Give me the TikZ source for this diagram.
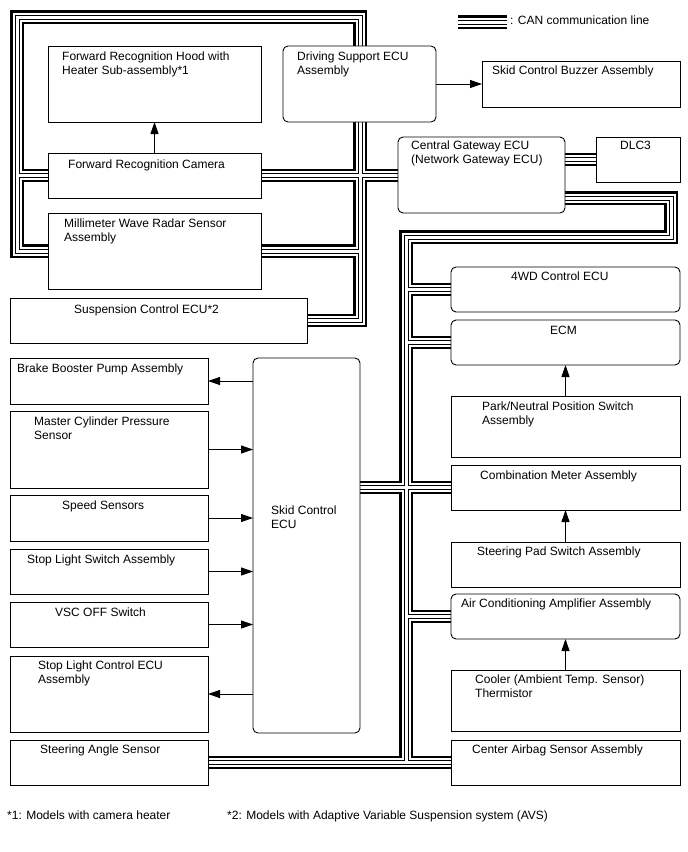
\documentclass[tikz,border=0pt]{standalone}
\usepackage{fontspec}
\setmainfont{Liberation Sans}
\usetikzlibrary{arrows.meta,backgrounds}
\tikzset{
  box/.style={draw, line width=0.9pt, fill=white, inner sep=0pt, outer sep=0pt, anchor=north west},
  ecu/.style={box, rounded corners=5pt},
  txt/.style={inner sep=0pt, anchor=base west, align=left},
  sig/.style={-{Triangle[length=12pt,width=8pt]}, line width=0.9pt},
  canline/.style={draw=black, line width=13.5pt,
    postaction={draw=white, line width=9pt},
    postaction={draw=black, line width=5pt},
    postaction={draw=white, line width=3pt}}
}

\begin{document}
\begin{tikzpicture}[x=1pt, y=-1pt, font=\fontsize{12}{14}\selectfont]
  \useasboundingbox (0,0) rectangle (688,852);
  % upper group
  \node[box, minimum width=213, minimum height=76] (hood) at (48,46) {};
  \node[box, minimum width=213, minimum height=45] (cam) at (48,153) {};
  \node[box, minimum width=213, minimum height=76] (mmw) at (48,213) {};
  \node[box, minimum width=297, minimum height=45] (susp) at (10,298) {};
  \node[ecu, minimum width=153, minimum height=76] (ds) at (283,46) {};
  \node[box, minimum width=198, minimum height=46] (buz) at (482,61) {};
  \node[ecu, minimum width=167, minimum height=76] (gw) at (398,137) {};
  \node[box, minimum width=84, minimum height=45] (dlc) at (596,137) {};
  % right column
  \node[ecu, minimum width=229, minimum height=45] (fwd) at (451,267) {};
  \node[ecu, minimum width=229, minimum height=45] (ecm) at (451,320) {};
  \node[box, minimum width=229, minimum height=61] (pn) at (451,396) {};
  \node[box, minimum width=229, minimum height=45] (cmb) at (451,465) {};
  \node[box, minimum width=229, minimum height=45] (spad) at (451,542) {};
  \node[ecu, minimum width=229, minimum height=45] (ac) at (451,594) {};
  \node[box, minimum width=229, minimum height=61] (cool) at (451,670) {};
  \node[box, minimum width=229, minimum height=45] (abg) at (451,740) {};
  % left column
  \node[box, minimum width=198, minimum height=46] (bbp) at (10,358) {};
  \node[box, minimum width=198, minimum height=77] (mcp) at (10,411) {};
  \node[box, minimum width=198, minimum height=46] (spd) at (10,495) {};
  \node[box, minimum width=198, minimum height=45] (sls) at (10,549) {};
  \node[box, minimum width=198, minimum height=45] (vsc) at (10,602) {};
  \node[box, minimum width=198, minimum height=76] (slc) at (10,656) {};
  \node[box, minimum width=198, minimum height=45] (sas) at (10,740) {};
  \node[ecu, minimum width=107, minimum height=375] (skid) at (253,358) {};

  % texts (base = last line)
  \node[txt] (hood-t) at (62,74) {Forward Recognition Hood with\\Heater Sub-assembly*1};
  \node[txt] (cam-t) at (68,168) {Forward Recognition Camera};
  \node[txt] (mmw-t) at (64,241) {Millimeter Wave Radar Sensor\\Assembly};
  \node[txt] (susp-t) at (74,313) {Suspension Control ECU*2};
  \node[txt] (ds-t) at (297,74) {Driving Support ECU\\Assembly};
  \node[txt] (buz-t) at (492,74) {Skid Control Buzzer Assembly};
  \node[txt] (gw-t) at (411,163) {Central Gateway ECU\\(Network Gateway ECU)};
  \node[txt] (dlc-t) at (620,149) {DLC3};
  \node[txt] (fwd-t) at (511,280) {4WD Control ECU};
  \node[txt] (ecm-t) at (550,334) {ECM};
  \node[txt] (pn-t) at (482,424) {Park/Neutral Position Switch\\Assembly};
  \node[txt] (cmb-t) at (480,479) {Combination Meter Assembly};
  \node[txt] (spad-t) at (477,555) {Steering Pad Switch Assembly};
  \node[txt] (ac-t) at (461,607) {Air Conditioning Amplifier Assembly};
  \node[txt] (cool-t) at (475,697) {Cooler (Ambient Temp. Sensor)\\Thermistor};
  \node[txt] (abg-t) at (472,753) {Center Airbag Sensor Assembly};
  \node[txt] (bbp-t) at (17,372) {Brake Booster Pump Assembly};
  \node[txt] (mcp-t) at (34,439) {Master Cylinder Pressure\\Sensor};
  \node[txt] (spd-t) at (62,509) {Speed Sensors};
  \node[txt] (sls-t) at (27,563) {Stop Light Switch Assembly};
  \node[txt] (vsc-t) at (55,616) {VSC OFF Switch};
  \node[txt] (slc-t) at (38,683) {Stop Light Control ECU\\Assembly};
  \node[txt] (sas-t) at (40,753) {Steering Angle Sensor};
  \node[txt] (skid-t) at (271,528) {Skid Control\\ECU};
  \node[txt] (leg-t) at (510,24) {: CAN communication line};
  \node[txt] (note1) at (7,819) {*1: Models with camera heater};
  \node[txt] (note2) at (227,819) {*2: Models with Adaptive Variable Suspension system (AVS)};

  % signal lines
  \draw[sig] (cam.north) -- (hood.south);
  \draw[sig] (ds.east) -- (buz.west);
  \draw[sig] (skid.west |- bbp.east) -- (bbp.east);
  \draw[sig] (mcp.east) -- (skid.west |- mcp.east);
  \draw[sig] (spd.east) -- (skid.west |- spd.east);
  \draw[sig] (sls.east) -- (skid.west |- sls.east);
  \draw[sig] (vsc.east) -- (skid.west |- vsc.east);
  \draw[sig] (skid.west |- slc.east) -- (slc.east);
  \draw[sig] (pn.north) -- (ecm.south);
  \draw[sig] (spad.north) -- (cmb.south);
  \draw[sig] (cool.north) -- (ac.south);

  % CAN bus
  \coordinate (tl) at (17,17);
  \coordinate (tr) at (360,17);
  \coordinate (gwo) at (565,198);
  \coordinate (rb) at (671,237);
  \coordinate (v3) at (406,237);
  \coordinate (leg1) at (458,22);
  \coordinate (leg2) at (507,22);
  \begin{scope}[on background layer]
    \draw[canline]
      (mmw.west) -- (tl |- mmw.west) -- (tl) -- (tr) -- (tr |- susp.east) -- (susp.east)
      (cam.west) -- (tl |- cam.west)
      (cam.east) -- (cam.east -| gw.west)
      (mmw.east) -- (tr |- mmw.east)
      (gw.east |- dlc.west) -- (dlc.west)
      (gwo) -- (gwo -| rb) -- (rb) -- (v3) -- (v3 |- abg.west)
      (v3 |- fwd.west) -- (fwd.west)
      (v3 |- ecm.west) -- (ecm.west)
      (skid.east |- cmb.west) -- (cmb.west)
      (v3 |- ac.west) -- (ac.west)
      (sas.east) -- (abg.west);
    \draw[canline] (leg1) -- (leg2);
  \end{scope}
\end{tikzpicture}
\end{document}
